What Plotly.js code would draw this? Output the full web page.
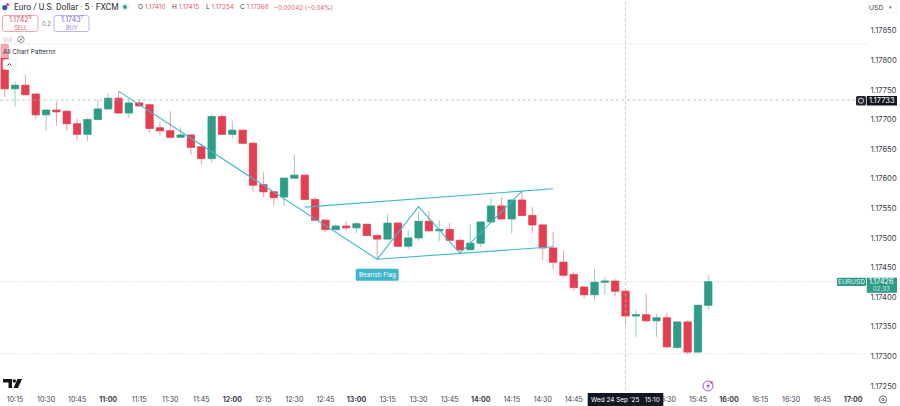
<!DOCTYPE html>
<html><head><meta charset="utf-8">
<script src="https://cdn.plot.ly/plotly-3.0.1.min.js"></script>
<style>html,body{margin:0;padding:0;background:#fff}#c{width:900px;height:406px}</style></head>
<body><div id="c"></div>
<script>
const times=["10:10","10:15","10:20","10:25","10:30","10:35","10:40","10:45","10:50","10:55","11:00","11:05","11:10","11:15","11:20","11:25","11:30","11:35","11:40","11:45","11:50","11:55","12:00","12:05","12:10","12:15","12:20","12:25","12:30","12:35","12:40","12:45","12:50","12:55","13:00","13:05","13:10","13:15","13:20","13:25","13:30","13:35","13:40","13:45","13:50","13:55","14:00","14:05","14:10","14:15","14:20","14:25","14:30","14:35","14:40","14:45","14:50","14:55","15:00","15:05","15:10","15:15","15:20","15:25","15:30","15:35","15:40","15:45","15:50"];
const open=[1.17826,1.17752,1.17758,1.17743,1.17708,1.17716,1.17714,1.17693,1.17675,1.17700,1.17718,1.17736,1.17711,1.17728,1.17725,1.17686,1.17681,1.17670,1.17674,1.17654,1.17634,1.17705,1.17675,1.17682,1.17660,1.17590,1.17578,1.17569,1.17601,1.17606,1.17565,1.17530,1.17514,1.17520,1.17517,1.17523,1.17504,1.17498,1.17525,1.17486,1.17500,1.17528,1.17512,1.17514,1.17496,1.17480,1.17491,1.17527,1.17554,1.17532,1.17564,1.17538,1.17522,1.17483,1.17459,1.17438,1.17417,1.17404,1.17425,1.17427,1.17410,1.17368,1.17370,1.17360,1.17365,1.17315,1.17358,1.17307,1.17386];
const high=[1.17827,1.17764,1.17775,1.17744,1.17717,1.17730,1.17715,1.17701,1.17703,1.17733,1.17744,1.17748,1.17734,1.17735,1.17726,1.17696,1.17714,1.17687,1.17675,1.17660,1.17709,1.17709,1.17698,1.17683,1.17661,1.17611,1.17579,1.17602,1.17640,1.17607,1.17569,1.17531,1.17523,1.17529,1.17527,1.17524,1.17507,1.17540,1.17526,1.17514,1.17544,1.17545,1.17530,1.17525,1.17497,1.17523,1.17528,1.17568,1.17569,1.17565,1.17578,1.17552,1.17523,1.17510,1.17479,1.17443,1.17418,1.17448,1.17433,1.17431,1.17415,1.17378,1.17405,1.17372,1.17374,1.17359,1.17361,1.17389,1.17437];
const low=[1.17738,1.17722,1.17741,1.17701,1.17682,1.17690,1.17681,1.17665,1.17664,1.17699,1.17717,1.17710,1.17703,1.17722,1.17678,1.17673,1.17669,1.17669,1.17640,1.17624,1.17627,1.17674,1.17668,1.17658,1.17577,1.17569,1.17554,1.17554,1.17600,1.17564,1.17528,1.17510,1.17513,1.17512,1.17508,1.17503,1.17464,1.17497,1.17484,1.17481,1.17495,1.17511,1.17495,1.17495,1.17474,1.17479,1.17485,1.17526,1.17531,1.17508,1.17537,1.17508,1.17463,1.17447,1.17434,1.17411,1.17398,1.17394,1.17404,1.17402,1.17354,1.17333,1.17357,1.17333,1.17314,1.17312,1.17304,1.17306,1.17379];
const close=[1.17752,1.17758,1.17742,1.17708,1.17716,1.17713,1.17693,1.17675,1.17700,1.17718,1.17736,1.17711,1.17728,1.17723,1.17685,1.17681,1.17670,1.17674,1.17653,1.17634,1.17705,1.17675,1.17682,1.17660,1.17589,1.17578,1.17568,1.17601,1.17606,1.17565,1.17530,1.17514,1.17520,1.17517,1.17524,1.17504,1.17498,1.17525,1.17486,1.17500,1.17528,1.17512,1.17514,1.17496,1.17480,1.17491,1.17527,1.17554,1.17532,1.17564,1.17538,1.17522,1.17483,1.17459,1.17437,1.17416,1.17404,1.17425,1.17427,1.17410,1.17368,1.17370,1.17360,1.17365,1.17316,1.17358,1.17307,1.17386,1.17426];

const zigTimes=["11:05","13:10","13:30","13:50","14:20"];
const zigPrices=[1.17748,1.17464,1.17553,1.17474,1.17579];
const upperTimes=["12:35","14:35"];
const upperPrices=[1.17552,1.17583];
const lowerTimes=["13:10","14:35"];
const lowerPrices=[1.17464,1.17485];

const yTicks=[1.1785,1.178,1.1775,1.177,1.1765,1.176,1.1755,1.175,1.1745,1.174,1.1735,1.173,1.1725];
const xTickTimes=["10:15","10:30","10:45","11:00","11:15","11:30","11:45","12:00","12:15","12:30","12:45","13:00","13:15","13:30","13:45","14:00","14:15","14:30","14:45","15:30","15:45","16:00","16:15","16:30","16:45","17:00"];
const levelPrices=[1.17828,1.17426,1.17304];
const crossPrice=1.17733, crossTime="15:10";

const D=t=>"2025-09-24 "+t;
const RED="#E43F51",GRN="#2F9C87",RW="#EF9CA6",GW="#93CFC3",TEAL="#3FB6CB";
const W=866,H=390,FONT="Inter, 'Noto Sans', sans-serif",INK="#2a2e39";
const px=x=>x/W, py=y=>1-y/H;

const bodyHi=open.map((o,i)=>Math.max(o,close[i]));
const bodyLo=open.map((o,i)=>Math.min(o,close[i]));
const X=times.map(D);
const candle=(h,l,up,dn,w)=>({type:"candlestick",x:X,open,high:h,low:l,close,hoverinfo:"skip",showlegend:false,
  increasing:{line:{color:up,width:w},fillcolor:GRN},decreasing:{line:{color:dn,width:w},fillcolor:RED}});
const line=(t,p)=>({type:"scatter",mode:"lines",x:t.map(D),y:p,line:{color:TEAL,width:1.1},hoverinfo:"skip",showlegend:false});

const traces=[candle(high,low,GW,RW,1),candle(bodyHi,bodyLo,GRN,RED,0.5),line(zigTimes,zigPrices),line(upperTimes,upperPrices),line(lowerTimes,lowerPrices)];

const rect=(x0,y0,x1,y1,fill,stroke,r)=>{
  const base={type:"rect",xref:"paper",yref:"paper",layer:"above",x0:px(x0),x1:px(x1),y0:py(y0),y1:py(y1),fillcolor:fill||"rgba(0,0,0,0)",line:{color:stroke||"rgba(0,0,0,0)",width:stroke?0.8:0}};
  if(!r)return base;
  const P=(x,y)=>px(x)+","+py(y);
  return {type:"path",xref:"paper",yref:"paper",layer:"above",fillcolor:base.fillcolor,line:base.line,
    path:`M${P(x0+r,y0)} L${P(x1-r,y0)} Q${P(x1,y0)} ${P(x1,y0+r)} L${P(x1,y1-r)} Q${P(x1,y1)} ${P(x1-r,y1)} L${P(x0+r,y1)} Q${P(x0,y1)} ${P(x0,y1-r)} L${P(x0,y0+r)} Q${P(x0,y0)} ${P(x0+r,y0)} Z`};
};
const circle=(cx,cy,r,fill,stroke)=>({type:"circle",xref:"paper",yref:"paper",layer:"above",x0:px(cx-r),x1:px(cx+r),y0:py(cy-r),y1:py(cy+r),fillcolor:fill||"rgba(0,0,0,0)",line:{color:stroke||"rgba(0,0,0,0)",width:stroke?0.9:0}});
const poly=(pts,stroke,fill,w)=>({type:"path",xref:"paper",yref:"paper",layer:"above",path:"M"+pts.map(p=>px(p[0])+","+py(p[1])).join(" L")+(fill?" Z":""),fillcolor:fill||"rgba(0,0,0,0)",line:{color:stroke||"rgba(0,0,0,0)",width:stroke?(w||1):0}});
const hline=(p,color,dash)=>({type:"line",xref:"paper",yref:"y",x0:0,x1:1,y0:p,y1:p,layer:"below",line:{color,width:0.7,dash}});

const shapes=[
  ...levelPrices.map(p=>hline(p,"#d3d5da","2px,1.5px")),
  {...hline(crossPrice,"#a8abb3","3px,2.5px"),layer:"above"},
  {type:"line",xref:"x",yref:"paper",x0:D(crossTime),x1:D(crossTime),y0:0,y1:1,layer:"above",line:{color:"#b2b5bc",width:0.7,dash:"3px,2.5px"}},
  rect(0,45,57,58,"rgba(255,255,255,0.55)"),
  rect(3,59.5,16,69.5,"#fff","#e6e7ea",1.5),
  poly([[7.5,65.5],[9.5,63.5],[11.5,65.5]],"#444"),
  rect(2.5,15.5,38,31.5,"#fff","#EE8E99",2.5),
  rect(54,15.5,89,31.5,"#fff","#A5A2EE",2.5),
  circle(125,7,4,"#E3F3EF"),circle(125,7,1.9,GRN),
  circle(4.8,7.6,2.6,"#2A5DB0"),circle(7.6,4.6,1.6,"#E0525F"),
  circle(21,39.5,3.2,"#fff","#8a8e98"),circle(21,39.5,1,"#8a8e98"),
  poly([[18.5,42],[23.5,37]],"#8a8e98",null,0.8),
  rect(355.7,268.7,398.7,280.7,TEAL,null,1.5),
  rect(856,96,866,105.5,"#26282e",null,1.5),circle(861,100.7,2.6,"#26282e","#e8e8e8"),
  rect(866.7,96,897,105.5,"#131722"),
  rect(837,277.7,866,286,"#2F9C87",null,1),
  rect(866.7,277.7,897,292.8,"#2F9C87"),
  rect(587.7,393,663.3,406,"#131722"),
  rect(868,1,897,13,"#fff","#f0f1f3",1.5),
  circle(708,386,5,"#fff","#9B3FC9"),
  poly([[709,382.8],[706.3,386.6],[708,386.6],[707,389.2],[710,385.2],[708.3,385.2]],null,"#9B3FC9"),
  circle(711.5,382.5,1.2,"#E0407A"),
  circle(883,399.5,3.6,"#fff","#555"),circle(883,399.5,1.2,"#fff","#555"),
  poly([[3,379],[12,379],[12,388],[8.5,388],[8.5,382.5],[3,382.5]],null,"#131722"),
  circle(14.3,381,1.7,"#131722"),
  poly([[17.5,379],[22,379],[18,388],[13.5,388]],null,"#131722")
];

const T=(x,y,text,size,color,anchor,extra)=>Object.assign({xref:"paper",yref:"paper",x:px(x),y:py(y),text,showarrow:false,font:{family:FONT,size,color},xanchor:anchor||"left",yanchor:"middle",borderpad:0,borderwidth:0},extra||{});
const v=s=>`<span style="color:#E5606F">${s}</span>`;
const annotations=[
  T(13.5,7,"Euro / U.S. Dollar · 5 · FXCM",8.5,"#2a2e39",null,{font:{family:"Roboto, sans-serif",size:8.5,color:"#2a2e39"}}),
  T(138,7.2,`O ${v("1.17410")}`,6.5,"#3a3e49"),
  T(172,7.2,`H ${v("1.17415")}`,6.5,"#3a3e49"),
  T(206,7.2,`L ${v("1.17354")}`,6.5,"#3a3e49"),
  T(240,7.2,`C ${v("1.17368")}`,6.5,"#3a3e49"),
  T(274,7.2,v("−0.00042 (−0.04%)"),6.2,"#E5606F"),
  T(20.2,19.2,"1.1742<sup>9</sup>",7,"#DF4A5B","center"),
  T(20.2,27.6,"SELL",5.6,"#E5606F","center"),
  T(71.5,19.2,"1.1743<sup>1</sup>",7,"#6F6BDD","center"),
  T(71.5,27.6,"BUY",5.6,"#7E7AE2","center"),
  T(46,23.5,"0.2",5.8,"#70747e","center"),
  T(3,39.5,"Vol",6.2,"#b9bcc4"),
  T(3,52,"All Chart Patterns",6.4,INK),
  T(377.2,274.8,"Bearish Flag",6.3,"#fff","center"),
  T(881.8,100.8,"1.17733",7.6,"#fff","center"),
  T(851.5,281.9,"EURUSD",6.6,"#e6f5f1","center"),
  T(881.8,281.8,"1.17426",7.2,"#fff","center"),
  T(881.8,288.8,"02:33",6,"#cfeae3","center"),
  T(625,399.7,"Wed 24 Sep '25  &nbsp;15:10",6.4,"#fff","center"),
  T(876,7,"USD",6.8,"#3a3e49","center"),
  T(890,7,"▾",5,"#555","center")
];

const layout={width:900,height:406,margin:{l:0,r:34,t:0,b:16,pad:0},paper_bgcolor:"#fff",plot_bgcolor:"#fff",showlegend:false,hovermode:false,
  boxgap:0.3,boxgroupgap:0,boxmode:"overlay",
  xaxis:{type:"date",range:["2025-09-24 10:07:44","2025-09-24 17:06:12"],rangeslider:{visible:false},showgrid:false,zeroline:false,showline:false,
    tickmode:"array",tickvals:xTickTimes.map(D),ticktext:xTickTimes.map(t=>t.endsWith(":00")?`<b>${t}</b>`:t),ticks:"outside",ticklen:3,tickcolor:"rgba(0,0,0,0)",tickangle:0,
    tickfont:{family:FONT,size:7,color:"#3a3e49"}},
  yaxis:{side:"right",range:[1.17243,1.17902],autorange:false,showgrid:false,zeroline:false,showline:false,
    tickmode:"array",tickvals:yTicks,ticktext:yTicks.map(t=>t.toFixed(5)),ticks:"outside",ticklen:2,tickcolor:"rgba(0,0,0,0)",
    tickfont:{family:FONT,size:7.6,color:"#3a3e49"}},
  shapes,annotations};
Plotly.newPlot("c",traces,layout,{displayModeBar:false,responsive:false});
</script></body></html>
